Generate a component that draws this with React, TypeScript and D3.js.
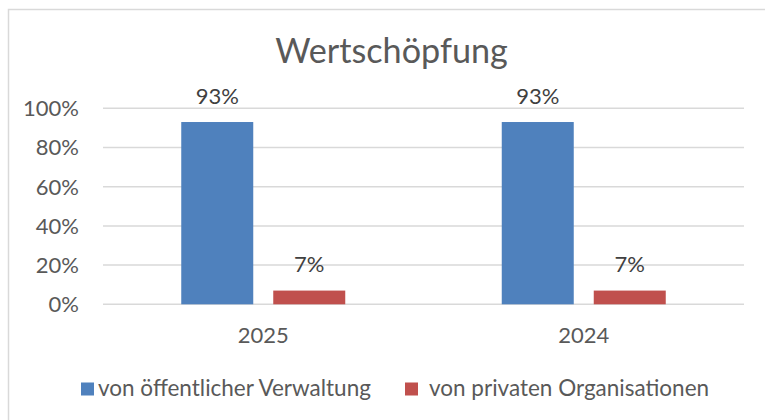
import React from "react";
import * as d3 from "d3";

const categories = ["2025", "2024"];
const seriesNames = ["von öffentlicher Verwaltung", "von privaten Organisationen"];
const publicValues = [0.93, 0.93];
const privateValues = [0.07, 0.07];
const yTicks = [0, 0.2, 0.4, 0.6, 0.8, 1.0];
const colors = ["#4f81bd", "#c0504d"];

const W = 765;
const H = 420;
const FONT = "Lato, 'Open Sans', sans-serif";
const TEXT = "#595959";

export default function App() {
  const plotLeft = 103;
  const plotRight = 744;
  const y = d3.scaleLinear().domain([0, 1]).range([304.3, 108.3]);
  const x0 = d3.scaleBand<string>().domain(categories).range([plotLeft, plotRight]);
  const groupW = 164;
  const x1 = d3
    .scaleBand<string>()
    .domain(seriesNames)
    .range([0, groupW])
    .paddingInner(0.2174);
  const groupOffset = (x0.bandwidth() - groupW) / 2;
  const seriesValues = [publicValues, privateValues];
  const fmt = d3.format(".0%");

  return (
    <svg
      width={W}
      height={H}
      style={{ position: "absolute", left: 0, top: 0, background: "#fff" }}
      fontFamily={FONT}
    >
      <rect x={8.5} y={9.5} width={W} height={H} fill="#fff" stroke="#d9d9d9" strokeWidth={1.5} />
      <text x={391.5} y={62.5} textAnchor="middle" fontSize={34.2} fill={TEXT}>
        Wertschöpfung
      </text>
      {yTicks.map((t) => (
        <g key={t}>
          <line x1={plotLeft} x2={plotRight} y1={y(t)} y2={y(t)} stroke="#d9d9d9" strokeWidth={1.5} />
          <text x={79} y={y(t) + 7.8} textAnchor="end" fontSize={22} fill={TEXT}>
            {fmt(t)}
          </text>
        </g>
      ))}
      {categories.map((c, ci) => (
        <g key={c}>
          {seriesNames.map((s, si) => {
            const v = seriesValues[si][ci];
            const bx = (x0(c) as number) + groupOffset + (x1(s) as number);
            return (
              <g key={s}>
                <rect
                  x={bx}
                  y={y(v)}
                  width={x1.bandwidth()}
                  height={y(0) - y(v)}
                  fill={colors[si]}
                />
                <text
                  x={bx + x1.bandwidth() / 2}
                  y={y(v) - 18.3}
                  textAnchor="middle"
                  fontSize={22}
                  fill="#404040"
                >
                  {fmt(v)}
                </text>
              </g>
            );
          })}
          <text
            x={(x0(c) as number) + x0.bandwidth() / 2}
            y={343}
            textAnchor="middle"
            fontSize={22}
            fill={TEXT}
          >
            {c}
          </text>
        </g>
      ))}
      {seriesNames.map((s, si) => {
        const lx = si === 0 ? 81 : 405;
        return (
          <g key={s}>
            <rect x={lx} y={382.5} width={13} height={13} fill={colors[si]} />
            <text x={lx + (si === 0 ? 17 : 24)} y={396} fontSize={22.5} fill={TEXT}>
              {s}
            </text>
          </g>
        );
      })}
    </svg>
  );
}
